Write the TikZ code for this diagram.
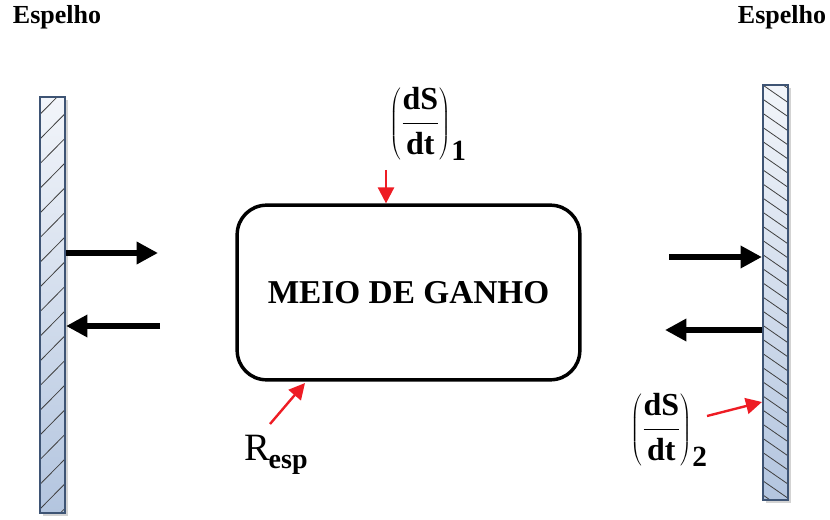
\documentclass[tikz,border=0pt]{standalone}
\usepackage{fontspec}
\setmainfont{Liberation Serif}
\usetikzlibrary{arrows.meta,shadows}
\definecolor{mirrorline}{HTML}{3E5474}
\definecolor{mirrortop}{HTML}{F2F5FA}
\definecolor{mirrorbot}{HTML}{B3C5DF}
\definecolor{arrred}{HTML}{EE1C24}
\tikzset{
  mirror/.style={draw=mirrorline, line width=1.6pt, minimum width=18.75pt, minimum height=#1,
    inner sep=0pt, top color=mirrortop, bottom color=mirrorbot,
    drop shadow={shadow xshift=2pt, shadow yshift=-2pt, opacity=0.35, fill=gray}},
  beam/.style={line width=4.3pt, -{Triangle[length=16pt,width=16pt]}},
  redarr/.style={draw=arrred, line width=1.8pt, -{Triangle[length=12pt,width=12pt]}},
  lbl/.style={font=\bfseries\fontsize{19.5}{21}\selectfont, inner sep=0pt},
  gainbox/.style={draw, line width=2.6pt, rounded corners=22pt, minimum width=257pt, minimum height=131pt,
    font=\bfseries\fontsize{25}{27}\selectfont},
  hatch/.style={draw=black!75, line width=0.6pt},
  frac/.style={inner sep=0pt, font=\bfseries\fontsize{24}{27}\selectfont}
}
\newcommand{\lossfrac}[1]{$\displaystyle\left(\frac{\mbox{\bfseries dS}}{\mbox{\bfseries dt}}\right)_{\mbox{\bfseries\fontsize{22}{24}\selectfont #1}}$}
\begin{document}
\begin{tikzpicture}[x=0.75pt,y=-0.75pt]
\useasboundingbox (0,0) rectangle (830,520);
% mirrors
\node[mirror=312pt, path picture={
  \foreach \i in {-2,...,18}
    \draw[hatch] ([yshift=\i*18.5pt+3pt]path picture bounding box.south west) -- ++(18.75pt,19pt);
}] (mL) at (52.5,305) {};
\node[mirror=311pt, path picture={
  \foreach \i in {-2,...,32}
    \draw[hatch] ([yshift=-\i*10.6pt]path picture bounding box.north west) -- ++(18.75pt,-13pt);
}] (mR) at (775.5,292.5) {};
\node[lbl] (tL) at (57,17) {Espelho};
\node[lbl] (tR) at (782,17) {Espelho};
% gain medium
\node[gainbox] (box) at (408.5,292.5) {MEIO DE GANHO};
% beams
\coordinate (l1) at (158,253);
\coordinate (l2) at (160,326);
\coordinate (r1) at (669,257);
\coordinate (r2) at (665,330);
\draw[beam] (mL.east |- l1) -- (l1);
\draw[beam] (l2) -- (mL.east |- l2);
\draw[beam] (r1) -- (mR.west |- r1);
\draw[beam] (mR.west |- r2) -- (r2);
% loss labels
\node[frac] (d1) at (428,124) {\lossfrac{1}};
\coordinate (d1a) at (386,170);
\draw[redarr] (d1a) -- (d1a |- box.north);
\node[inner sep=0pt, anchor=west, font=\fontsize{29}{30}\selectfont] (rs) at (244,455)
  {R\kern-1pt\raisebox{-6pt}{\bfseries\fontsize{21}{22}\selectfont esp}};
\coordinate (rsa) at (270,424);
\coordinate (rsb) at (305,383);
\draw[redarr] (rsa) -- (rsb);
\node[frac] (d2) at (669,430) {\lossfrac{2}};
\coordinate (d2a) at (707,416);
\draw[redarr] (d2a) -- (mR.west |- 0,402);
\end{tikzpicture}
\end{document}
